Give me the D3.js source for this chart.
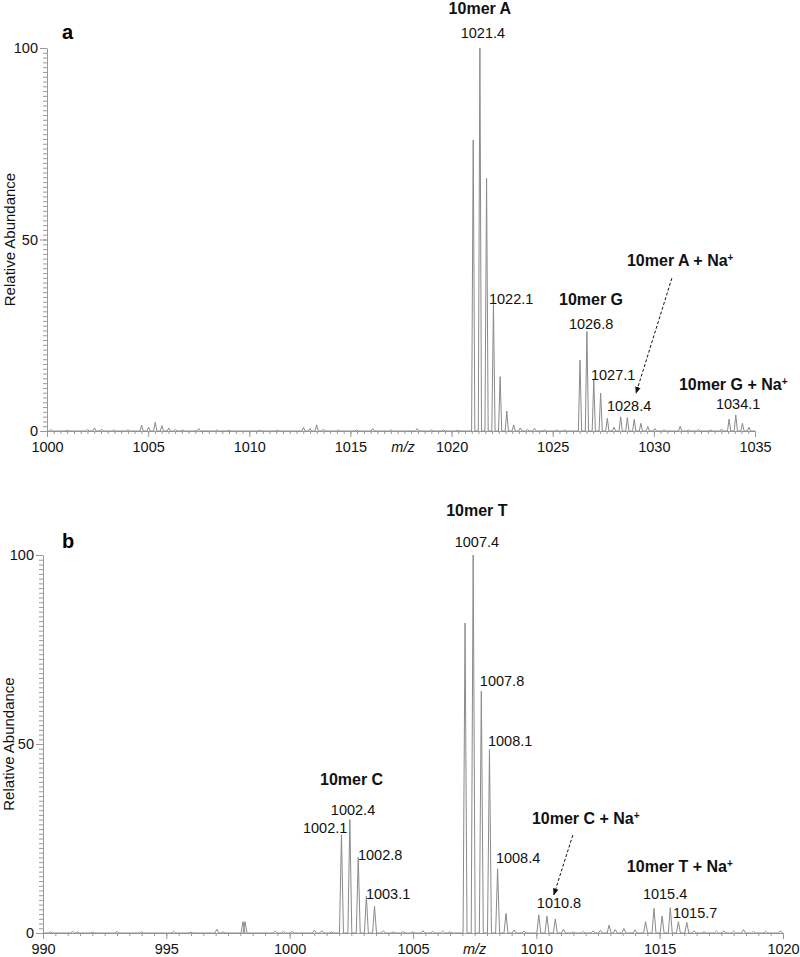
<!DOCTYPE html>
<html>
<head>
<meta charset="utf-8">
<script src="https://cdn.jsdelivr.net/npm/d3@7"></script>
<style>
  html, body { margin: 0; padding: 0; background: #fff; }
  svg { display: block; font-family: "Liberation Sans", Arial, sans-serif; }
</style>
</head>
<body>
<svg id="chart" width="800" height="957"></svg>
<script>
// ---------------- DATA ----------------
// Panel a: peak centroids (m/z) and relative abundance (%)
const topMz = [1000.2, 1001.0, 1002.0, 1002.35, 1002.7, 1003.3, 1004.0, 1004.68, 1005.02, 1005.35, 1005.68, 1006.02, 1006.35, 1006.7,
  1007.5, 1008.4, 1009.0, 1010.5, 1011.4, 1012.68, 1013.0, 1013.33, 1013.67, 1014.4, 1015.3, 1016.1, 1017.0, 1018.3, 1019.0, 1019.6, 1020.3,
  1021.07, 1021.40, 1021.73, 1022.07, 1022.40, 1022.73, 1023.07, 1023.40, 1023.75, 1024.1, 1024.6, 1025.2, 1025.6,
  1026.35, 1026.69, 1027.03, 1027.37, 1027.70, 1028.03, 1028.36, 1028.69, 1029.03, 1029.36, 1029.70, 1030.05, 1030.5,
  1031.3, 1031.7, 1032.2, 1032.8, 1033.35, 1033.72, 1034.05, 1034.38, 1034.70];
const topInt = [0.4, 0.2, 0.4, 0.8, 0.5, 0.3, 0.3, 1.5, 1.0, 2.3, 1.4, 0.8, 0.4, 0.3,
  0.6, 0.3, 0.2, 0.2, 0.2, 0.9, 0.6, 1.6, 0.5, 0.3, 0.3, 0.6, 0.3, 0.6, 0.3, 0.3, 0.2,
  76, 100, 66, 33, 14.2, 5.2, 1.6, 0.8, 0.4, 0.7, 0.3, 0.3, 0.3,
  18.5, 26, 13.3, 9.9, 3.3, 1.0, 3.7, 3.5, 3.0, 2.0, 1.2, 0.6, 0.3,
  1.2, 0.3, 0.4, 0.3, 0.5, 3.1, 4.2, 2.0, 1.0];

// Panel b
const botMz = [990.3, 991.2, 991.4, 992.0, 993.0, 994.0, 995.3, 996.0, 997.05, 997.3, 998.11, 998.19, 999.4, 999.75, 1000.1, 1001.0, 1001.3, 1001.7,
  1002.10, 1002.44, 1002.78, 1003.11, 1003.44, 1003.8, 1004.2, 1004.6, 1005.0, 1005.4, 1005.8, 1006.2, 1006.5,
  1007.11, 1007.44, 1007.77, 1008.10, 1008.43, 1008.77, 1009.1, 1009.5,
  1010.10, 1010.43, 1010.77, 1011.1, 1011.5, 1011.9, 1012.3, 1012.6, 1012.95, 1013.2, 1013.55, 1014.0,
  1014.43, 1014.77, 1015.10, 1015.43, 1015.76, 1016.10, 1016.4, 1016.8, 1017.3, 1017.6, 1018.0, 1018.4, 1018.8, 1019.3, 1019.9];
const botInt = [0.3, 0.4, 0.3, 0.2, 0.4, 0.3, 0.4, 0.2, 1.0, 0.3, 3.0, 3.0, 0.5, 0.4, 0.4, 0.7, 0.6, 0.3,
  26, 30, 20, 9.8, 7.1, 0.6, 0.3, 0.4, 0.3, 0.6, 0.4, 0.5, 0.3,
  82, 100, 64, 48.5, 17, 5.2, 0.8, 0.5,
  4.8, 4.5, 3.7, 1.0, 0.3, 0.4, 0.5, 0.7, 2.1, 0.9, 1.2, 0.8,
  3.0, 6.5, 4.5, 6.7, 3.0, 2.8, 0.6, 0.3, 0.5, 0.6, 0.5, 0.9, 0.4, 0.4, 0.6];

// Axis definitions
const topDomain = [1000, 1035];
const botDomain = [990, 1020];
const topMajorTicks = [1000, 1005, 1010, 1015, 1020, 1025, 1030, 1035];
const botMajorTicks = [990, 995, 1000, 1005, 1010, 1015, 1020];
const yMajorTicks = [0, 50, 100];

// Annotations: [text, m/z anchor, abundance anchor, bold, anchor]
const topLabels = [
  ["10mer A", 1021.40, 108.8, true, "middle"],
  ["1021.4", 1021.55, 102.6, false, "middle"],
  ["1022.1", 1021.85, 33.2, false, "start"],
  ["10mer G", 1025.31, 32.9, true, "start"],
  ["1026.8", 1025.80, 26.6, false, "start"],
  ["1027.1", 1026.89, 13.3, false, "start"],
  ["1028.4", 1027.68, 5.2, false, "start"],
  ["10mer A + Na", 1028.67, 43.1, true, "start"],
  ["10mer G + Na", 1031.24, 10.7, true, "start"],
  ["1034.1", 1033.07, 5.7, false, "start"]
];
const topArrows = [[1030.89, 39.9, 1029.12, 9.9]];

const botLabels = [
  ["10mer T", 1007.59, 110.3, true, "middle"],
  ["1007.4", 1007.59, 102.1, false, "middle"],
  ["1007.8", 1007.71, 65.3, false, "start"],
  ["1008.1", 1008.04, 49.5, false, "start"],
  ["1008.4", 1008.36, 18.5, false, "start"],
  ["10mer C + Na", 1009.82, 28.8, true, "start"],
  ["1010.8", 1010.02, 6.6, false, "start"],
  ["10mer T + Na", 1013.67, 16.1, true, "start"],
  ["1015.4", 1014.32, 9.0, false, "start"],
  ["1015.7", 1015.54, 4.0, false, "start"],
  ["10mer C", 1001.23, 39.2, true, "start"],
  ["1002.4", 1001.67, 31.2, false, "start"],
  ["1002.1", 1000.54, 26.5, false, "start"],
  ["1002.8", 1002.77, 19.3, false, "start"],
  ["1003.1", 1003.09, 9.0, false, "start"]
];
const botArrows = [[1011.48, 25.9, 1010.71, 10.1]];

// ---------------- DRAWING ----------------
const svg = d3.select("#chart");
const lineColor = "#8a8a8a";
const axisColor = "#9a9a9a";

svg.append("defs").append("marker")
  .attr("id", "arrowhead")
  .attr("viewBox", "0 0 10 10")
  .attr("refX", 9).attr("refY", 5)
  .attr("markerWidth", 7).attr("markerHeight", 7)
  .attr("orient", "auto")
  .append("path").attr("d", "M0,1 L10,5 L0,9 Z").attr("fill", "#111");

function drawPanel(opts) {
  const x = d3.scaleLinear().domain(opts.domain).range(opts.xRange);
  const y = d3.scaleLinear().domain([0, 100]).range(opts.yRange);
  const g = svg.append("g");

  // minor x ticks
  const minor = [];
  const n = Math.round((opts.domain[1] - opts.domain[0]) / opts.minorStep);
  for (let i = 0; i <= n; i++) minor.push(opts.domain[0] + i * opts.minorStep);
  g.append("g")
    .attr("transform", `translate(0,${opts.yRange[0]})`)
    .call(d3.axisBottom(x).tickValues(minor).tickSize(3).tickSizeOuter(0).tickFormat(""))
    .call(a => { a.select(".domain").attr("stroke", axisColor); a.selectAll("line").attr("stroke", axisColor); });
  // major x ticks
  g.append("g")
    .attr("transform", `translate(0,${opts.yRange[0]})`)
    .call(d3.axisBottom(x).tickValues(opts.majorTicks).tickSize(6).tickSizeOuter(0).tickFormat(d3.format("d")).tickPadding(5))
    .call(a => {
      a.select(".domain").remove();
      a.selectAll("line").attr("stroke", axisColor);
      a.selectAll("text").attr("font-size", "14.5px").attr("fill", "#111")
        .attr("font-family", "Liberation Sans, Arial, sans-serif");
    });

  // minor y ticks
  const yMinor = d3.range(0, 100.001, 1.25);
  g.append("g")
    .attr("transform", `translate(${opts.xRange[0]},0)`)
    .call(d3.axisLeft(y).tickValues(yMinor).tickSize(4).tickSizeOuter(0).tickFormat(""))
    .call(a => { a.select(".domain").attr("stroke", axisColor); a.selectAll("line").attr("stroke", axisColor); });
  g.append("g")
    .attr("transform", `translate(${opts.xRange[0]},0)`)
    .call(d3.axisLeft(y).tickValues(yMajorTicks).tickSize(7).tickSizeOuter(0).tickPadding(2))
    .call(a => {
      a.select(".domain").remove();
      a.selectAll("line").attr("stroke", axisColor);
      a.selectAll("text").attr("font-size", "14.5px").attr("fill", "#111")
        .attr("font-family", "Liberation Sans, Arial, sans-serif");
    });

  // spectrum
  const hw = 0.08;
  const pts = [[opts.domain[0], 0]];
  opts.mz.forEach((m, i) => {
    pts.push([m - hw, 0], [m, opts.ints[i]], [m + hw, 0]);
  });
  pts.push([opts.domain[1], 0]);
  const line = d3.line().x(d => x(d[0])).y(d => y(d[1]));
  g.append("path")
    .attr("d", line(pts))
    .attr("fill", "none")
    .attr("stroke", lineColor)
    .attr("stroke-width", 1)
    .attr("stroke-linejoin", "round");

  // panel letter
  g.append("text")
    .attr("x", opts.letterPos[0]).attr("y", opts.letterPos[1])
    .attr("font-size", "20px").attr("font-weight", "bold").attr("fill", "#000")
    .text(opts.letter);

  // y label
  g.append("text")
    .attr("transform", `translate(${opts.yLabelX},${(opts.yRange[0] + opts.yRange[1]) / 2}) rotate(-90)`)
    .attr("text-anchor", "middle")
    .attr("font-size", "15px").attr("fill", "#111")
    .text("Relative Abundance");

  // m/z label
  g.append("text")
    .attr("x", x(opts.mzLabelAt)).attr("y", opts.yRange[0] + 21)
    .attr("text-anchor", "middle")
    .attr("font-size", "14.5px").attr("font-style", "italic").attr("fill", "#111")
    .text("m/z");

  // annotations
  opts.labels.forEach(([t, m, v, bold, anchor]) => {
    const txt = g.append("text")
      .attr("x", x(m)).attr("y", y(v))
      .attr("text-anchor", anchor)
      .attr("fill", "#111")
      .attr("font-size", bold ? "16px" : "14.5px")
      .attr("font-weight", bold ? "bold" : "normal");
    txt.text(t);
    if (t.endsWith("+ Na")) {
      txt.append("tspan").attr("baseline-shift", "super").attr("font-size", "10px").text("+");
    }
  });

  opts.arrows.forEach(([m1, v1, m2, v2]) => {
    g.append("line")
      .attr("x1", x(m1)).attr("y1", y(v1))
      .attr("x2", x(m2)).attr("y2", y(v2))
      .attr("stroke", "#111").attr("stroke-width", 1)
      .attr("stroke-dasharray", "3,2")
      .attr("marker-end", "url(#arrowhead)");
  });
}

drawPanel({
  domain: topDomain, xRange: [47, 755], yRange: [431, 48],
  majorTicks: topMajorTicks, minorStep: 1 / 3,
  mz: topMz, ints: topInt,
  letter: "a", letterPos: [62, 39], yLabelX: 15, mzLabelAt: 1017.6,
  labels: topLabels, arrows: topArrows
});

drawPanel({
  domain: botDomain, xRange: [43, 783], yRange: [933, 555],
  majorTicks: botMajorTicks, minorStep: 0.5,
  mz: botMz, ints: botInt,
  letter: "b", letterPos: [62, 548], yLabelX: 14, mzLabelAt: 1007.5,
  labels: botLabels, arrows: botArrows
});
</script>
</body>
</html>
